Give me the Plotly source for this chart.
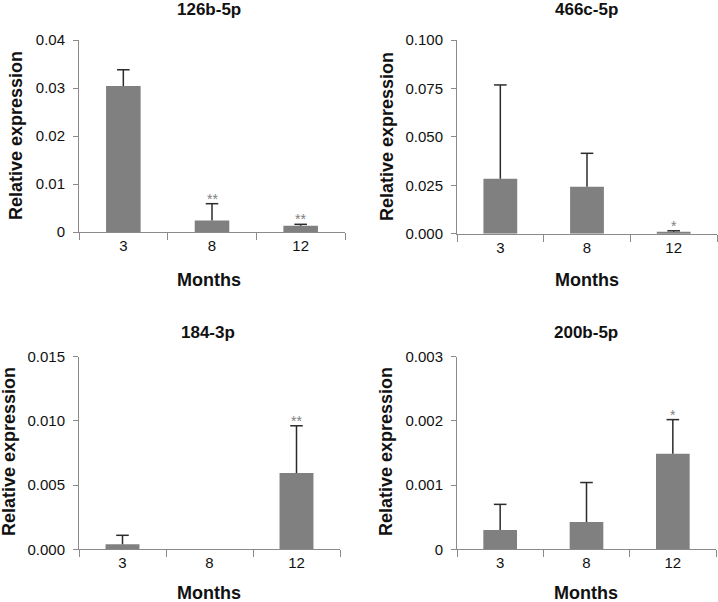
import plotly.graph_objects as go

W, H = 718, 602

months = ["3", "8", "12"]

titles = ["126b-5p", "466c-5p", "184-3p", "200b-5p"]

mean_126b = [0.0304, 0.0024, 0.0013]
err_126b = [0.0034, 0.0035, 0.0003]
stars_126b = ["", "**", "**"]

mean_466c = [0.0284, 0.0243, 0.0010]
err_466c = [0.0484, 0.0172, 0.0005]
stars_466c = ["", "", "*"]

mean_184 = [0.00039, None, 0.00594]
err_184 = [0.00070, None, 0.00368]
stars_184 = ["", "", "**"]

mean_200b = [0.00030, 0.000425, 0.00149]
err_200b = [0.00040, 0.000615, 0.00053]
stars_200b = ["", "", "*"]

ytick_126b = [0, 0.01, 0.02, 0.03, 0.04]
ytext_126b = ["0", "0.01", "0.02", "0.03", "0.04"]
ytick_466c = [0, 0.025, 0.05, 0.075, 0.1]
ytext_466c = ["0.000", "0.025", "0.050", "0.075", "0.100"]
ytick_184 = [0, 0.005, 0.01, 0.015]
ytext_184 = ["0.000", "0.005", "0.010", "0.015"]
ytick_200b = [0, 0.001, 0.002, 0.003]
ytext_200b = ["0", "0.001", "0.002", "0.003"]

means = [mean_126b, mean_466c, mean_184, mean_200b]
errs = [err_126b, err_466c, err_184, err_200b]
stars = [stars_126b, stars_466c, stars_184, stars_200b]
yticks = [ytick_126b, ytick_466c, ytick_184, ytick_200b]
ytexts = [ytext_126b, ytext_466c, ytext_184, ytext_200b]

# pixel layout (left, right, top, bottom) of each plot area
boxes = [(79, 345, 40, 232), (457, 717, 40, 233.7),
         (79, 340, 356.7, 549.3), (457, 716, 356.7, 549.3)]
title_pos = [(209, 10), (586, 10), (208, 332.5), (586, 332.5)]
ytitle_pos = [(16, 136), (387, 137), (9, 452), (386, 452)]
xtitle_pos = [(209, 280), (587, 280), (209, 593), (586, 593)]

FONT = "Liberation Sans, Arial, sans-serif"
AXC = "#8a8a8a"
ERRC = "#2b2b2b"

fig = go.Figure()
annotations = []
for i in range(4):
    n = "" if i == 0 else str(i + 1)
    xa, ya = "x" + n, "y" + n
    m = means[i]
    e = errs[i]
    tops = [None if (a is None or b is None) else a + b for a, b in zip(m, e)]
    fig.add_trace(go.Bar(
        x=months, y=m, xaxis=xa, yaxis=ya,
        marker=dict(color="#808080", line=dict(width=0)),
        width=0.39,
        error_y=dict(type="data", symmetric=False, array=e,
                     arrayminus=[0] * len(e), color=ERRC,
                     thickness=1.5, width=0),
        showlegend=False, hoverinfo="skip",
    ))
    # caps at the top of the error bars only
    fig.add_trace(go.Scatter(
        x=months, y=tops, xaxis=xa, yaxis=ya, mode="markers",
        marker=dict(symbol="line-ew", size=9, line=dict(color=ERRC, width=1.5)),
        showlegend=False, hoverinfo="skip", cliponaxis=False,
    ))
    l, r, t, b = boxes[i]
    fig.layout["xaxis" + n] = dict(
        domain=[l / W, r / W], anchor=ya, type="category",
        range=[-0.5, len(months) - 0.5], automargin=False,
        showline=True, linecolor=AXC, linewidth=1,
        ticks="outside", tickson="boundaries", ticklen=7, tickcolor=AXC,
        tickangle=0,
        tickfont=dict(family=FONT, size=15, color="#111"),
        showgrid=False, zeroline=False, fixedrange=True,
    )
    top = yticks[i][-1]
    fig.layout["yaxis" + n] = dict(
        domain=[1 - b / H, 1 - t / H], anchor=xa, range=[0, top],
        automargin=False,
        tickvals=yticks[i], ticktext=ytexts[i],
        showline=True, linecolor=AXC, linewidth=1,
        ticks="outside", ticklen=5, tickcolor=AXC, ticklabelstandoff=5,
        tickfont=dict(family=FONT, size=15, color="#111"),
        showgrid=False, zeroline=False, fixedrange=True,
    )
    tx, ty = title_pos[i]
    annotations.append(dict(text="<b>%s</b>" % titles[i], x=tx / W, y=1 - ty / H,
                            xref="paper", yref="paper", showarrow=False,
                            xanchor="center", yanchor="middle",
                            font=dict(family=FONT, size=17, color="#111")))
    yx, yy = ytitle_pos[i]
    annotations.append(dict(text="<b>Relative expression</b>", x=yx / W, y=1 - yy / H,
                            xref="paper", yref="paper", showarrow=False,
                            textangle=-90, xanchor="center", yanchor="middle",
                            font=dict(family=FONT, size=18, color="#111")))
    mx, my = xtitle_pos[i]
    annotations.append(dict(text="<b>Months</b>", x=mx / W, y=1 - my / H,
                            xref="paper", yref="paper", showarrow=False,
                            xanchor="center", yanchor="middle",
                            font=dict(family=FONT, size=18, color="#111")))
    for j, s in enumerate(stars[i]):
        if s:
            annotations.append(dict(text=s, x=j, y=tops[j],
                                    xref=xa, yref=ya, showarrow=False,
                                    xanchor="center", yanchor="bottom", yshift=-5,
                                    font=dict(family=FONT, size=14, color="#808080")))

fig.update_layout(
    width=W, height=H, margin=dict(l=0, r=0, t=0, b=0, pad=0, autoexpand=False),
    paper_bgcolor="white", plot_bgcolor="white",
    annotations=annotations, bargap=0.6,
)

fig.write_html(
    "out.html",
    config={"displayModeBar": False},
    post_script="document.body.style.margin='0px';document.body.style.overflow='hidden';",
)
